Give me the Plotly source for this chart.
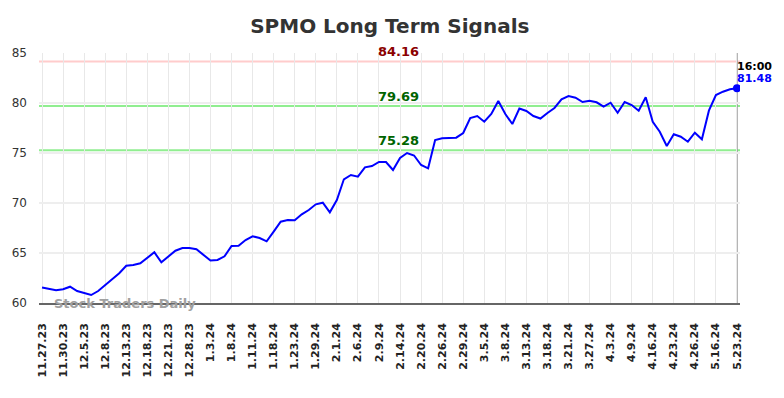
import plotly.graph_objects as go

tick_labels = ["11.27.23", "11.30.23", "12.5.23", "12.8.23", "12.13.23", "12.18.23", "12.21.23",
               "12.28.23", "1.3.24", "1.8.24", "1.11.24", "1.18.24", "1.23.24", "1.29.24", "2.1.24",
               "2.6.24", "2.9.24", "2.14.24", "2.20.24", "2.26.24", "2.29.24", "3.5.24", "3.8.24",
               "3.13.24", "3.18.24", "3.21.24", "3.27.24", "4.3.24", "4.9.24", "4.16.24", "4.23.24",
               "4.26.24", "5.16.24", "5.23.24"]

prices = [61.55, 61.4, 61.27, 61.37, 61.63, 61.2, 61.03, 60.8, 61.2, 61.8,
          62.4, 62.97, 63.73, 63.8, 63.97, 64.53, 65.07, 64.07, 64.7, 65.23,
          65.5, 65.5, 65.37, 64.8, 64.25, 64.3, 64.67, 65.7, 65.73, 66.3,
          66.67, 66.5, 66.17, 67.13, 68.13, 68.3, 68.27, 68.87, 69.3, 69.87,
          70.03, 69.07, 70.3, 72.37, 72.8, 72.63, 73.57, 73.7, 74.1, 74.1,
          73.3, 74.5, 75.0, 74.75, 73.8, 73.47, 76.3, 76.47, 76.53, 76.53,
          77.0, 78.5, 78.7, 78.13, 78.9, 80.2, 78.9, 77.9, 79.45, 79.2,
          78.7, 78.45, 79.0, 79.5, 80.37, 80.7, 80.53, 80.1, 80.23, 80.07,
          79.63, 80.03, 79.03, 80.1, 79.8, 79.23, 80.57, 78.13, 77.13, 75.7,
          76.87, 76.63, 76.13, 77.03, 76.37, 79.23, 80.8, 81.13, 81.37, 81.48]

signal_levels = [84.16, 79.69, 75.28]
signal_colors = ["#ffcccc", "#90ee90", "#90ee90"]
signal_text_colors = ["#8b0000", "#006400", "#006400"]
last_time = "16:00"

idx = list(range(len(prices)))
tick_step = 3
tick_vals = idx[::tick_step]

fig = go.Figure()

for lvl, c in zip(signal_levels, signal_colors):
    fig.add_shape(type="line", xref="paper", yref="y", x0=0, x1=1, y0=lvl, y1=lvl,
                  line=dict(color=c, width=2), layer="below")

# vertical line at last point
fig.add_shape(type="line", xref="x", yref="paper", x0=idx[-1], x1=idx[-1], y0=0, y1=1,
              line=dict(color="#999999", width=1.5), layer="below")

fig.add_trace(go.Scatter(x=idx, y=prices, mode="lines",
                         line=dict(color="#0000ff", width=2), hoverinfo="skip"))
fig.add_trace(go.Scatter(x=[idx[-1]], y=[prices[-1]], mode="markers",
                         marker=dict(color="#0000ff", size=8), hoverinfo="skip"))

for lvl, tc in zip(signal_levels, signal_text_colors):
    fig.add_annotation(xref="paper", x=0.5135, y=lvl, text=f"<b>{lvl:.2f}</b>", showarrow=False,
                       yanchor="bottom", yshift=0, font=dict(family="DejaVu Sans", size=13, color=tc))

fig.add_annotation(x=idx[-1], y=prices[-1], text=f"<b>{last_time}</b>", showarrow=False,
                   xanchor="left", yanchor="bottom", xshift=-2, yshift=13,
                   font=dict(family="DejaVu Sans", size=11, color="#000000"))
fig.add_annotation(x=idx[-1], y=prices[-1], text=f"<b>{prices[-1]:.2f}</b>", showarrow=False,
                   xanchor="left", yanchor="bottom", xshift=-2, yshift=1,
                   font=dict(family="DejaVu Sans", size=11, color="#0000ff"))

fig.add_annotation(xref="paper", yref="y", x=0.018, y=60, text="<b>Stock Traders Daily</b>",
                   showarrow=False, xanchor="left", yanchor="middle",
                   font=dict(family="DejaVu Sans", size=13, color="#a0a0a0"))

fig.update_layout(
    width=776, height=390,
    margin=dict(l=31, r=44, t=45, b=95),
    paper_bgcolor="white", plot_bgcolor="white",
    showlegend=False,
    title=dict(text="<b>SPMO Long Term Signals</b>", x=0.492, xanchor="center", y=1 - 18 / 390,
               yanchor="middle", font=dict(family="DejaVu Sans", size=20, color="#333333")),
    xaxis=dict(range=[-0.43, len(prices) - 1 + 0.43], tickmode="array", tickvals=tick_vals,
               ticktext=[f"<b>{t}</b>" for t in tick_labels], tickangle=-90,
               tickfont=dict(family="DejaVu Sans", size=11, color="#222222"),
               ticklabelstandoff=14, automargin=False,
               showgrid=True, gridcolor="#e8e8e8", gridwidth=1, zeroline=False,
               showline=True, linecolor="#666666", linewidth=1.5, ticks="", ticklen=0),
    yaxis=dict(range=[60, 85], tickvals=[60, 65, 70, 75, 80, 85],
               tickfont=dict(family="DejaVu Sans", size=12, color="#333333"),
               ticklabelstandoff=11, automargin=False,
               showgrid=True, gridcolor="#eeeeee", gridwidth=1.5, zeroline=False,
               showline=False, ticks="", ticklen=0),
)

fig.write_html("out.html")
